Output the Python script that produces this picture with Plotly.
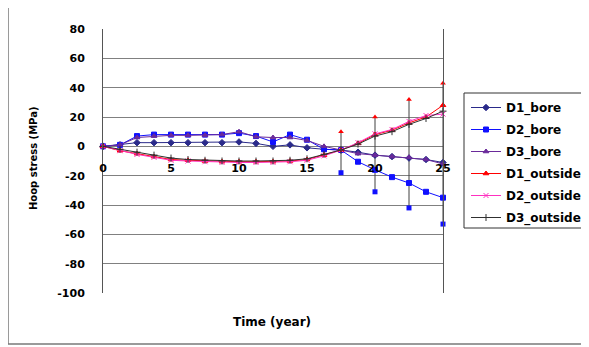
import plotly.graph_objects as go

# ---- data ----
time_years = [0, 1.25, 2.5, 3.75, 5, 6.25, 7.5, 8.75, 10, 11.25, 12.5,
              13.75, 15, 16.25, 17.5, 18.75, 20, 21.25, 22.5, 23.75, 25]

d1_bore = [0, 1, 2.5, 2.5, 2.5, 2.5, 2.5, 2.5, 3, 2, 0, 1, -1, -2, -2.5,
           -4, -6, -7, -8, -9, -11]
d2_bore = [0, 1, 7, 8, 8, 8, 8, 8, 9, 7, 3, 8, 4.5, -2, -2.5,
           -10.5, -16, -21, -25, -31, -35]
d3_bore = [0, 1, 6, 7, 7.5, 7.5, 7.5, 8, 10, 6.5, 6, 6, 4, 0, -2.5,
           -5, -6, -7, -7.5, -9, -12]
d1_outside = [0, -3, -5, -7, -9, -9.5, -10, -10.5, -10.5, -10.5, -10.5,
              -10, -9, -6, -2.5, 2, 8, 11, 16, 20, 28]
d2_outside = [0, -3, -5.5, -7.5, -9.5, -10, -10.5, -11, -11, -11, -11,
              -10.5, -9.5, -6.5, -2.5, 2.5, 8.5, 11.5, 17, 21, 22]
d3_outside = [0, -2, -4, -6, -8, -9, -9.5, -10, -10, -10, -10,
              -9.5, -8.5, -5.5, -2.5, 1.5, 7, 10, 15, 19, 24]

spike_x = [17.5, 20, 22.5, 25]
spike_high = [10, 20, 32, 43]
spike_low = [-18, -31, -42, -53]

series_names = ["D1_bore", "D2_bore", "D3_bore", "D1_outside", "D2_outside", "D3_outside"]
series_values = [d1_bore, d2_bore, d3_bore, d1_outside, d2_outside, d3_outside]
series_colors = ["#2a2a8a", "#1010ff", "#6a2a9a", "#ff0000", "#ff30c0", "#303030"]
series_symbols = ["diamond", "square", "triangle-up", "triangle-up", "x-thin", "cross-thin"]

y_ticks = [80, 60, 40, 20, 0, -20, -40, -60, -80, -100]
x_ticks = [0, 5, 10, 15, 20, 25]

# ---- geometry (pixels); page body adds an 8px offset ----
OFF = 8
W, H = 589 - OFF, 347 - OFF
L, T = 103 - OFF, 29 - OFF
R = W - (443 - OFF)
B = H - (293 - OFF)
pw, ph = W - L - R, H - T - B


def px_x(p):
    return (p - OFF - L) / pw


def px_y(p):
    return (H - B - (p - OFF)) / ph


fig = go.Figure()

# vertical spread lines
sx, sy = [], []
for x, lo, hi in zip(spike_x, spike_low, spike_high):
    sx += [x, x, None]
    sy += [lo, hi, None]
fig.add_trace(go.Scatter(x=sx, y=sy, mode="lines", line=dict(color="#404040", width=1),
                         showlegend=False, hoverinfo="skip", cliponaxis=False))

for name, vals, col, sym in zip(series_names, series_values, series_colors, series_symbols):
    fig.add_trace(go.Scatter(
        x=time_years, y=vals, name=name, mode="lines+markers",
        line=dict(color=col, width=1),
        marker=dict(symbol=sym, size=5, color=col,
                    line=dict(color=col, width=1)),
        legendgroup=name, cliponaxis=False))

fig.add_trace(go.Scatter(x=spike_x, y=spike_high, mode="markers",
                         marker=dict(symbol="triangle-up", size=5, color="#ff0000"),
                         showlegend=False, cliponaxis=False))
fig.add_trace(go.Scatter(x=spike_x, y=spike_low, mode="markers",
                         marker=dict(symbol="square", size=5, color="#1010ff"),
                         showlegend=False, cliponaxis=False))

bold = dict(family="DejaVu Sans", size=11, color="black", weight="bold")
bold_ytitle = dict(family="DejaVu Sans", size=10, color="black", weight="bold")
bold_xtitle = dict(family="DejaVu Sans", size=12, color="black", weight="bold")
bold_leg = dict(family="DejaVu Sans", size=12, color="black", weight="bold")

fig.update_layout(
    width=W, height=H,
    margin=dict(l=L, r=R, t=T, b=B, pad=0, autoexpand=False),
    paper_bgcolor="white", plot_bgcolor="white",
    showlegend=True,
    legend=dict(x=px_x(466), y=px_y(93), xanchor="left", yanchor="top",
                bgcolor="rgba(0,0,0,0)", borderwidth=0,
                font=bold_leg, itemwidth=30, traceorder="grouped", tracegroupgap=3),
    xaxis=dict(range=[0, 25], tickvals=x_ticks, ticktext=[str(v) for v in x_ticks],
               anchor="free", position=100 / 180, showgrid=False, zeroline=False,
               showline=False, ticks="", tickfont=bold, ticklabelstandoff=14),
    yaxis=dict(range=[-100, 80], tickvals=y_ticks, ticktext=[str(v) for v in y_ticks],
               showgrid=True, gridcolor="#808080", gridwidth=1, zeroline=False,
               showline=True, linecolor="#555555", linewidth=1, mirror=True,
               ticks="", tickfont=bold, ticklabelstandoff=15),
    shapes=[
        dict(type="rect", xref="paper", yref="paper",
             x0=px_x(8), x1=px_x(586), y0=px_y(344), y1=px_y(5),
             line=dict(color="#7a7a7a", width=1.5), fillcolor="rgba(0,0,0,0)", layer="above"),
        dict(type="rect", xref="paper", yref="paper",
             x0=px_x(464), x1=px_x(588), y0=px_y(228), y1=px_y(93),
             line=dict(color="#333333", width=1), fillcolor="white", layer="above"),
    ],
    annotations=[
        dict(text="Hoop stress (MPa)", xref="paper", yref="paper", x=px_x(33), y=px_y(159),
             textangle=-90, showarrow=False, font=bold_ytitle, xanchor="center", yanchor="middle"),
        dict(text="Time (year)", xref="paper", yref="paper", x=px_x(272), y=px_y(322),
             showarrow=False, font=bold_xtitle, xanchor="center", yanchor="middle"),
    ],
)

fig.write_html("out.html")
